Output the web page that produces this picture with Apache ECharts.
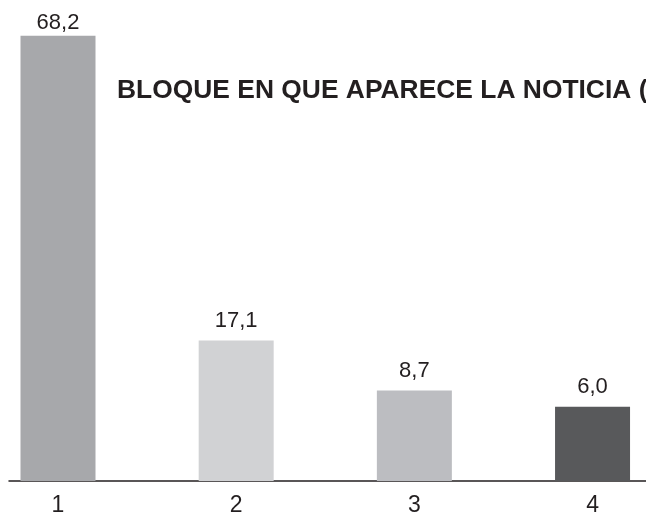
<!DOCTYPE html>
<html>
<head>
<meta charset="utf-8">
<script src="https://cdn.jsdelivr.net/npm/echarts@6/dist/echarts.min.js"></script>
<style>
  html, body { margin: 0; padding: 0; background: #fff; }
  #chart { width: 646px; height: 517px; }
</style>
</head>
<body>
<div id="chart"></div>
<script>
// bloque en que aparece la noticia (%)
var categories = ['1', '2', '3', '4'];
var values = [68.2, 17.1, 8.7, 6.0];
var barColors = ['#A7A8AB', '#D1D2D4', '#BCBDC1', '#58595B'];

var yMin = -6.47, yMax = 74.2;

var chart = echarts.init(document.getElementById('chart'));

var data = values.map(function(v, i) {
  return [i + 1, v];
});

var fmt = function(v) {
  return v.toFixed(1).replace('.', ',');
};

var option = {
  backgroundColor: '#fff',
  animation: false,
  graphic: [
    {
      // title is cut off at the right edge in the original
      type: 'text',
      x: 117,
      y: 79,
      scaleX: 1.056,
      style: {
        text: 'BLOQUE EN QUE APARECE LA NOTICIA (%)',
        fontFamily: 'Liberation Sans',
        fontWeight: 'bold',
        fontSize: 25,
        fill: '#231F20'
      }
    }
  ],
  grid: { left: 9, right: 0, top: 0, bottom: 32 },
  xAxis: {
    type: 'value',
    min: 0.725,
    max: 4.3,
    splitLine: { show: false },
    axisTick: { show: false },
    axisLine: { show: true, onZero: false, lineStyle: { color: '#231F20', width: 1.5 } },
    axisLabel: {
      customValues: [1, 2, 3, 4],
      formatter: function(v) { return categories[v - 1] || ''; },
      margin: 13,
      fontFamily: 'Liberation Sans',
      fontSize: 23,
      color: '#231F20'
    }
  },
  yAxis: {
    type: 'value',
    min: yMin,
    max: yMax,
    show: false
  },
  series: [
    {
      type: 'custom',
      data: data,
      renderItem: function(params, api) {
        var x = api.value(0), v = api.value(1);
        var top = api.coord([x, v]);
        var base = api.coord([x, yMin]);
        var w = 75;
        var dist = top[1] < 60 ? 2 : 9;
        return {
          type: 'rect',
          z2: 1,
          shape: { x: top[0] - w / 2, y: top[1], width: w, height: base[1] - top[1] },
          style: { fill: barColors[params.dataIndex] },
          textContent: {
            style: {
              text: fmt(v),
              fill: '#231F20',
              fontFamily: 'Liberation Sans',
              fontSize: 22
            }
          },
          textConfig: { position: 'top', distance: dist }
        };
      }
    }
  ]
};

chart.setOption(option);
</script>
</body>
</html>
